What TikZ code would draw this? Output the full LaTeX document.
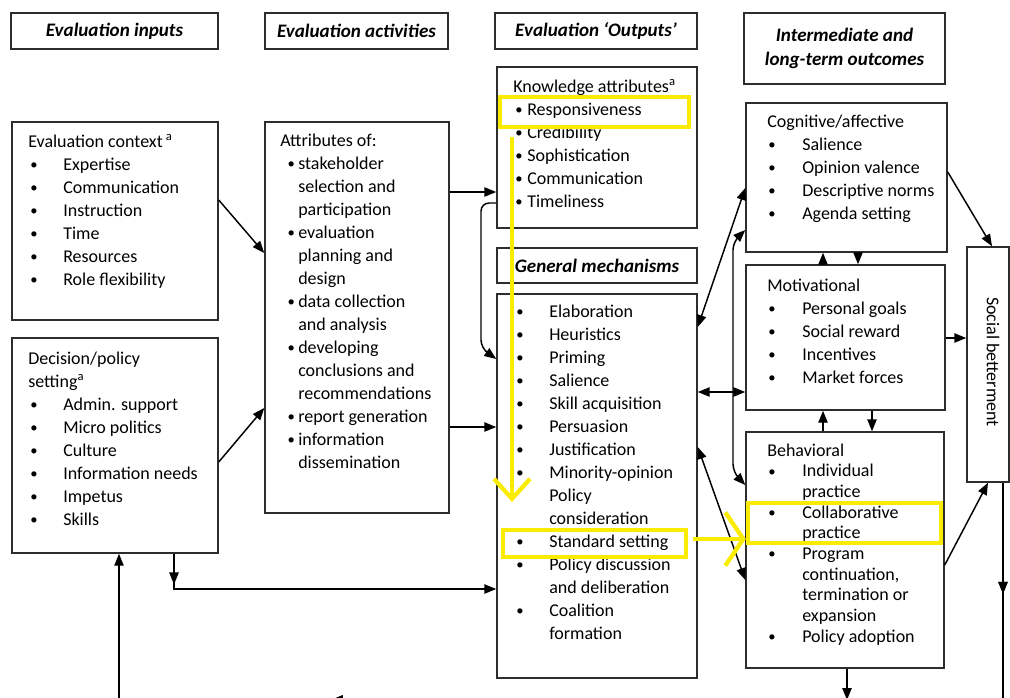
\documentclass[tikz,border=0pt]{standalone}
\usepackage{fontspec}
\setmainfont{Carlito}
\usetikzlibrary{arrows.meta,fit,decorations.markings}
\definecolor{hl}{RGB}{250,236,0}
\definecolor{bd}{RGB}{45,45,45}
\newcommand{\dotb}{{\fontsize{11}{11}\selectfont\raisebox{0.5pt}{\textbullet}}}
\newcommand{\bl}[3]{\makebox[#2][l]{\hspace*{#1}\dotb}#3}
\newcommand{\ct}[2]{\hspace*{#1}#2}
\tikzset{
  x=0.75pt, y=-0.75pt,
  >={Triangle[length=9pt,width=7pt]},
  box/.style={draw=bd, line width=1.1pt, inner sep=0pt},
  hdr/.style={font=\fontsize{14.3}{17.5}\selectfont\bfseries\itshape, align=center, inner sep=0pt},
  txt/.style={anchor=base west, inner sep=0pt, font=\fontsize{13.5}{17.25}\selectfont},
  txtb/.style={anchor=base west, inner sep=0pt, font=\fontsize{13.5}{15.5}\selectfont},
  ln/.style={line width=1.1pt, draw=black},
  hlbox/.style={draw=hl, line width=3.2pt, inner sep=0pt},
  hlline/.style={draw=hl, line width=3.2pt},
  midarr/.style={postaction={decorate}, decoration={markings, mark=at position #1 with {\arrow{Triangle[length=9pt,width=7pt]}}}},
}
\begin{document}
\begin{tikzpicture}
\useasboundingbox (0,0) rectangle (1010,697);
\clip (0,0) rectangle (1010,697);
\fill[white] (0,0) rectangle (1010,697);

% header boxes
\node[box, fit={(11,13)(218,49)}] (h1) {};
\node[hdr] (h1t) at (h1.center) {Evaluation inputs};
\node[box, fit={(265,13)(448,49)}] (h2) {};
\node[hdr] (h2t) at (h2.center) {Evaluation activities};
\node[box, fit={(495,13)(697,49)}] (h3) {};
\node[hdr] (h3t) at (h3.center) {Evaluation ‘Outputs’};
\node[box, fit={(744,13)(945,84)}] (h4) {};
\node[hdr] (h4t) at (h4.center) {Intermediate and\\long-term outcomes};

% main boxes
\node[box, fit={(12,122)(218,320)}] (ctx) {};
\node[box, fit={(12,338)(218,553)}] (dec) {};
\node[box, fit={(265,122)(449,513)}] (attr) {};
\node[box, fit={(497,67)(697,228)}] (know) {};
\node[box, fit={(497,248)(697,283)}] (gmh) {};
\node[hdr] (gmht) at (gmh.center) {General mechanisms};
\node[box, fit={(497,294)(697,678)}] (gm) {};
\node[box, fit={(746,103)(947,252)}] (cog) {};
\node[box, fit={(746,265)(945,410)}] (mot) {};
\node[box, fit={(746,432)(944,668)}] (beh) {};
\node[box, fit={(967,247)(1009,482)}] (soc) {};
\node[rotate=-90, inner sep=0pt, font=\fontsize{13.5}{17}\selectfont] (soct) at (993,362) {Social betterment};

% texts
\node[txt] (ctxt) at (28,147) {\begin{tabular}[t]{@{}l@{}}
Evaluation context\,\textsuperscript{a}\\
\bl{1.5pt}{26.25pt}{Expertise}\\
\bl{1.5pt}{26.25pt}{Communication}\\
\bl{1.5pt}{26.25pt}{Instruction}\\
\bl{1.5pt}{26.25pt}{Time}\\
\bl{1.5pt}{26.25pt}{Resources}\\
\bl{1.5pt}{26.25pt}{Role flexibility}
\end{tabular}};

\node[txt] (dect) at (28,364) {\begin{tabular}[t]{@{}l@{}}
Decision/policy\\
setting\textsuperscript{a}\\
\bl{1.5pt}{26.25pt}{Admin. support}\\
\bl{1.5pt}{26.25pt}{Micro politics}\\
\bl{1.5pt}{26.25pt}{Culture}\\
\bl{1.5pt}{26.25pt}{Information needs}\\
\bl{1.5pt}{26.25pt}{Impetus}\\
\bl{1.5pt}{26.25pt}{Skills}
\end{tabular}};

\node[txt] (attrt) at (280,146) {\begin{tabular}[t]{@{}l@{}}
Attributes of:\\
\bl{5.5pt}{13.5pt}{stakeholder}\\
\ct{13.5pt}{selection and}\\
\ct{13.5pt}{participation}\\
\bl{5.5pt}{13.5pt}{evaluation}\\
\ct{13.5pt}{planning and}\\
\ct{13.5pt}{design}\\
\bl{5.5pt}{13.5pt}{data collection}\\
\ct{13.5pt}{and analysis}\\
\bl{5.5pt}{13.5pt}{developing}\\
\ct{13.5pt}{conclusions and}\\
\ct{13.5pt}{recommendations}\\
\bl{5.5pt}{13.5pt}{report generation}\\
\bl{5.5pt}{13.5pt}{information}\\
\ct{13.5pt}{dissemination}
\end{tabular}};

\node[txt] (knowt) at (513,92) {\begin{tabular}[t]{@{}l@{}}
Knowledge attributes\textsuperscript{a}\\
\bl{1.5pt}{10.5pt}{Responsiveness}\\
\bl{1.5pt}{10.5pt}{Credibility}\\
\bl{1.5pt}{10.5pt}{Sophistication}\\
\bl{1.5pt}{10.5pt}{Communication}\\
\bl{1.5pt}{10.5pt}{Timeliness}
\end{tabular}};

\node[txt] (gmt) at (516,317) {\begin{tabular}[t]{@{}l@{}}
\bl{0pt}{24.75pt}{Elaboration}\\
\bl{0pt}{24.75pt}{Heuristics}\\
\bl{0pt}{24.75pt}{Priming}\\
\bl{0pt}{24.75pt}{Salience}\\
\bl{0pt}{24.75pt}{Skill acquisition}\\
\bl{0pt}{24.75pt}{Persuasion}\\
\bl{0pt}{24.75pt}{Justification}\\
\bl{0pt}{24.75pt}{Minority-opinion}\\
\ct{24.75pt}{Policy}\\
\ct{24.75pt}{consideration}\\
\bl{0pt}{24.75pt}{Standard setting}\\
\bl{0pt}{24.75pt}{Policy discussion}\\
\ct{24.75pt}{and deliberation}\\
\bl{0pt}{24.75pt}{Coalition}\\
\ct{24.75pt}{formation}
\end{tabular}};

\node[txt] (cogt) at (767,127) {\begin{tabular}[t]{@{}l@{}}
Cognitive/affective\\
\bl{0.75pt}{26.25pt}{Salience}\\
\bl{0.75pt}{26.25pt}{Opinion valence}\\
\bl{0.75pt}{26.25pt}{Descriptive norms}\\
\bl{0.75pt}{26.25pt}{Agenda setting}
\end{tabular}};

\node[txt] (mott) at (767,291) {\begin{tabular}[t]{@{}l@{}}
Motivational\\
\bl{0.75pt}{26.25pt}{Personal goals}\\
\bl{0.75pt}{26.25pt}{Social reward}\\
\bl{0.75pt}{26.25pt}{Incentives}\\
\bl{0.75pt}{26.25pt}{Market forces}
\end{tabular}};

\node[txtb] (beht) at (767,456) {\begin{tabular}[t]{@{}l@{}}
Behavioral\\
\bl{0.75pt}{26.25pt}{Individual}\\
\ct{26.25pt}{practice}\\
\bl{0.75pt}{26.25pt}{Collaborative}\\
\ct{26.25pt}{practice}\\
\bl{0.75pt}{26.25pt}{Program}\\
\ct{26.25pt}{continuation,}\\
\ct{26.25pt}{termination or}\\
\ct{26.25pt}{expansion}\\
\bl{0.75pt}{26.25pt}{Policy adoption}
\end{tabular}};

% connectors
\draw[ln,->] (ctx.east |- 0,200) -- (attr.west |- 0,253);
\draw[ln,->] (dec.east |- 0,462) -- (attr.west |- 0,408);
\draw[ln,->] (attr.east |- 0,192) -- (know.west |- 0,192);
\draw[ln,->] (attr.east |- 0,427) -- (gm.west |- 0,427);
\draw[ln,->, rounded corners=6pt] (know.west |- 0,203) -- (481,203) -- (481,348) -- (gm.west |- 0,359);
\draw[ln,<->] (gm.east |- 0,327) -- (cog.west |- 0,188);
\draw[ln,<->] (gm.east |- 0,392) -- (mot.west |- 0,392);
\draw[ln,<->] (gm.east |- 0,447) -- (beh.west |- 0,580);
\draw[ln,<->, rounded corners=6pt] (cog.west |- 0,230) -- (733,242) -- (733,472) -- (beh.west |- 0,485);
\draw[ln,->] (cog.east |- 0,172) -- (soc.north -| 992,0);
\draw[ln,->] (mot.east |- 0,338) -- (soc.west |- 0,338);
\draw[ln,->] (beh.east |- 0,565) -- (soc.south -| 988,0);
\draw[ln,->] (mot.north -| 823,0) -- (cog.south -| 823,0);
\draw[ln,->] (cog.south -| 858,0) -- (mot.north -| 858,0);
\draw[ln,->] (beh.north -| 823,0) -- (mot.south -| 823,0);
\draw[ln,->] (mot.south -| 872,0) -- (beh.north -| 872,0);
\coordinate (bot) at (847,700);
\draw[ln,->] (beh.south -| 847,0) -- (bot);
\draw[ln,->, midarr=0.089, midarr=0.713] (soc.south -| 1003,0) -- (1003,700) -- (119,700) -- (dec.south -| 119,0);
\draw[ln,->, midarr=0.086] (dec.south -| 174,0) -- (174,589) -- (gm.west |- 0,589);

% yellow highlights
\node[hlbox, fit={(500,97)(689,127)}] (yr1) {};
\node[hlbox, fit={(503,530)(686,557)}] (yr2) {};
\node[hlbox, fit={(748,503)(941,543)}] (yr3) {};
\draw[hlline, -{Straight Barb[length=15pt,width=27pt]}] (yr1.south -| 512,0) ++(0,8) -- (512,502);
\draw[hlline, -{Straight Barb[length=13.5pt,width=40pt]}] (693,539) -- (yr3.west |- 0,539);
\end{tikzpicture}
\end{document}
